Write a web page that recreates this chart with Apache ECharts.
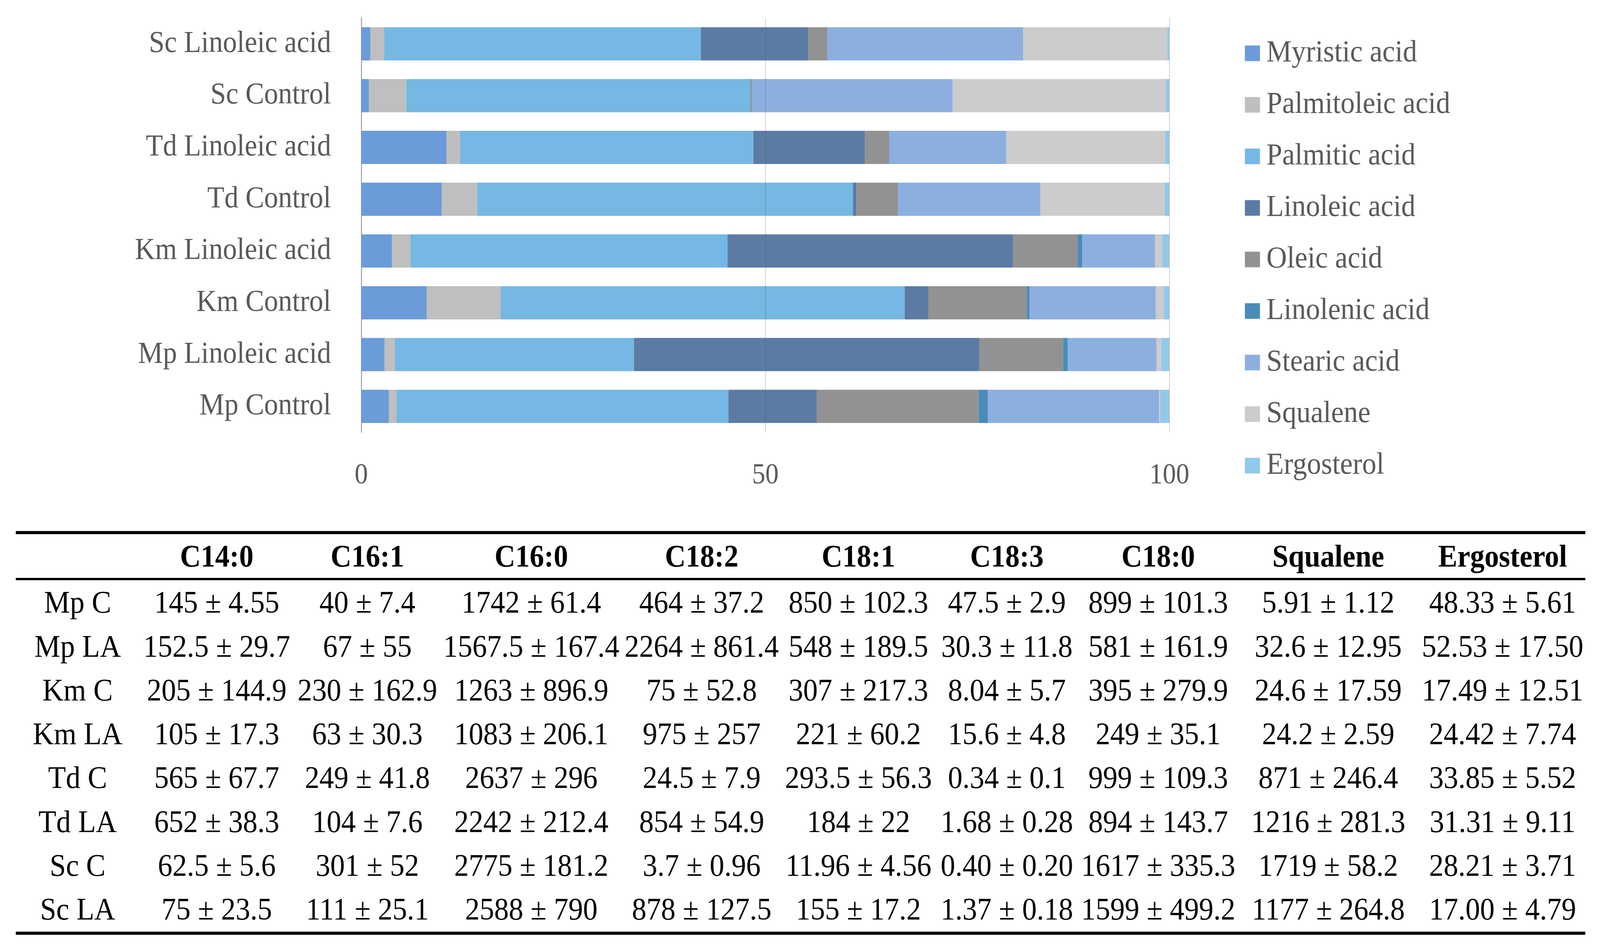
<!DOCTYPE html>
<html><head><meta charset="utf-8">
<script src="https://cdn.jsdelivr.net/npm/echarts/dist/echarts.min.js"></script>
<style>html,body{margin:0;padding:0;background:#fff;overflow:hidden}#c{position:absolute;left:0;top:0;width:4451px;height:2433px;transform-origin:0 0}</style>
</head><body><div id="c"></div>
<script>
// ---------- data ----------
const groups = ["Mp C","Mp LA","Km C","Km LA","Td C","Td LA","Sc C","Sc LA"];
const barLabels = ["Mp Control","Mp Linoleic acid","Km Control","Km Linoleic acid","Td Control","Td Linoleic acid","Sc Control","Sc Linoleic acid"];
const compounds = ["Myristic acid","Palmitoleic acid","Palmitic acid","Linoleic acid","Oleic acid","Linolenic acid","Stearic acid","Squalene","Ergosterol"];
const columnHeads = ["C14:0","C16:1","C16:0","C18:2","C18:1","C18:3","C18:0","Squalene","Ergosterol"];
const xTicks = [0, 50, 100];

const myristicMean    = ["145","152.5","205","105","565","652","62.5","75"];
const myristicSD      = ["4.55","29.7","144.9","17.3","67.7","38.3","5.6","23.5"];
const palmitoleicMean = ["40","67","230","63","249","104","301","111"];
const palmitoleicSD   = ["7.4","55","162.9","30.3","41.8","7.6","52","25.1"];
const palmiticMean    = ["1742","1567.5","1263","1083","2637","2242","2775","2588"];
const palmiticSD      = ["61.4","167.4","896.9","206.1","296","212.4","181.2","790"];
const linoleicMean    = ["464","2264","75","975","24.5","854","3.7","878"];
const linoleicSD      = ["37.2","861.4","52.8","257","7.9","54.9","0.96","127.5"];
const oleicMean       = ["850","548","307","221","293.5","184","11.96","155"];
const oleicSD         = ["102.3","189.5","217.3","60.2","56.3","22","4.56","17.2"];
const linolenicMean   = ["47.5","30.3","8.04","15.6","0.34","1.68","0.40","1.37"];
const linolenicSD     = ["2.9","11.8","5.7","4.8","0.1","0.28","0.20","0.18"];
const stearicMean     = ["899","581","395","249","999","894","1617","1599"];
const stearicSD       = ["101.3","161.9","279.9","35.1","109.3","143.7","335.3","499.2"];
const squaleneMean    = ["5.91","32.6","24.6","24.2","871","1216","1719","1177"];
const squaleneSD      = ["1.12","12.95","17.59","2.59","246.4","281.3","58.2","264.8"];
const ergosterolMean  = ["48.33","52.53","17.49","24.42","33.85","31.31","28.21","17.00"];
const ergosterolSD    = ["5.61","17.50","12.51","7.74","5.52","9.11","3.71","4.79"];

const means = [myristicMean, palmitoleicMean, palmiticMean, linoleicMean, oleicMean, linolenicMean, stearicMean, squaleneMean, ergosterolMean];
const sds   = [myristicSD, palmitoleicSD, palmiticSD, linoleicSD, oleicSD, linolenicSD, stearicSD, squaleneSD, ergosterolSD];

// ---------- styles / layout (designed for 4451 x 2433; stretched to fill the viewport) ----------
const colors = ["#6b9bd8","#bfbfbf","#75b8e3","#5b7ba3","#929292","#4a8bb8","#8cafdf","#cccccc","#92c8ea"];
const FONT = "'Liberation Serif', 'Times New Roman', serif";
const BW = 4451, BH = 2433;
const vw = window.innerWidth || BW, vh = window.innerHeight || BH;
const el = document.getElementById('c');
if (Math.abs(vw - BW) > 1 || Math.abs(vh - BH) > 1) {
  el.style.transform = 'scale(' + (vw / BW) + ',' + (vh / BH) + ')';
}

// percentage of each compound within a group
const totals = groups.map((g, i) => means.reduce((sum, arr) => sum + Number(arr[i]), 0));
const pct = means.map(arr => arr.map((v, i) => Number(v) / totals[i] * 100));

const series = compounds.map((name, k) => {
  const ser = {
    name: name, type: 'bar', stack: 'total', barWidth: '64%',
    data: pct[k], itemStyle: { color: colors[k] },
    emphasis: { disabled: true }, animation: false
  };
  if (k === compounds.length - 1) {
    ser.markLine = {
      silent: true, symbol: ['none','none'], label: { show: false },
      lineStyle: { color: 'rgba(89,89,89,0.22)', width: 3, type: 'solid' },
      data: [{ xAxis: xTicks[1] }, { xAxis: xTicks[2] }], animation: false
    };
  }
  return ser;
});

// ---------- table graphics ----------
const colX = [216, 603, 1022, 1478, 1952, 2388, 2801, 3222, 3695, 4180];
const headY = 1430, rowY0 = 1548, rowStep = 112.3;
const tblL = 44, tblR = 4410;
const graphics = [];
const hline = (y, h) => graphics.push({ type: 'rect', shape: { x: tblL, y: y, width: tblR - tblL, height: h }, style: { fill: '#000' } });
hline(1360, 8); hline(1480, 6); hline(2386, 8);
const txt = (t, x, y, size, bold) => graphics.push({ type: 'text', style: {
  text: t, x: x, y: y, align: 'center', verticalAlign: 'middle', textAlign: 'center', textVerticalAlign: 'middle',
  fontSize: size, fontWeight: bold ? 'bold' : 'normal', fontFamily: FONT, fill: '#000' } });
columnHeads.forEach((h, j) => txt(h, colX[j + 1], headY, 80, true));
groups.forEach((g, i) => {
  const y = rowY0 + i * rowStep;
  txt(g, colX[0], y, 81, false);
  means.forEach((arr, j) => txt(arr[i] + ' \u00b1 ' + sds[j][i], colX[j + 1], y, 81, false));
});

const chart = echarts.init(el, null, { renderer: 'canvas', width: BW, height: BH });
chart.setOption({
  backgroundColor: '#ffffff',
  animation: false,
  textStyle: { fontFamily: FONT },
  grid: { left: 1005, right: 1198, top: 46, bottom: 1326, containLabel: false },
  xAxis: {
    type: 'value', min: xTicks[0], max: xTicks[2], interval: xTicks[1],
    axisLine: { show: false }, axisTick: { show: false }, splitLine: { show: false },
    axisLabel: { color: '#595959', fontSize: 74, fontFamily: FONT, margin: 75 }
  },
  yAxis: {
    type: 'category', data: barLabels,
    axisTick: { show: false },
    axisLine: { show: true, lineStyle: { color: '#a6a6a6', width: 3 } },
    axisLabel: { color: '#595959', fontSize: 78, fontFamily: FONT, margin: 84 }
  },
  legend: {
    orient: 'vertical', left: 3458, top: 92,
    itemWidth: 42, itemHeight: 40, itemGap: 53, icon: 'rect',
    data: compounds,
    textStyle: { color: '#595959', fontSize: 79, fontFamily: FONT, padding: [0, 0, 0, 13] },
    selectedMode: false
  },
  series: series,
  graphic: graphics
});
</script>
</body></html>
